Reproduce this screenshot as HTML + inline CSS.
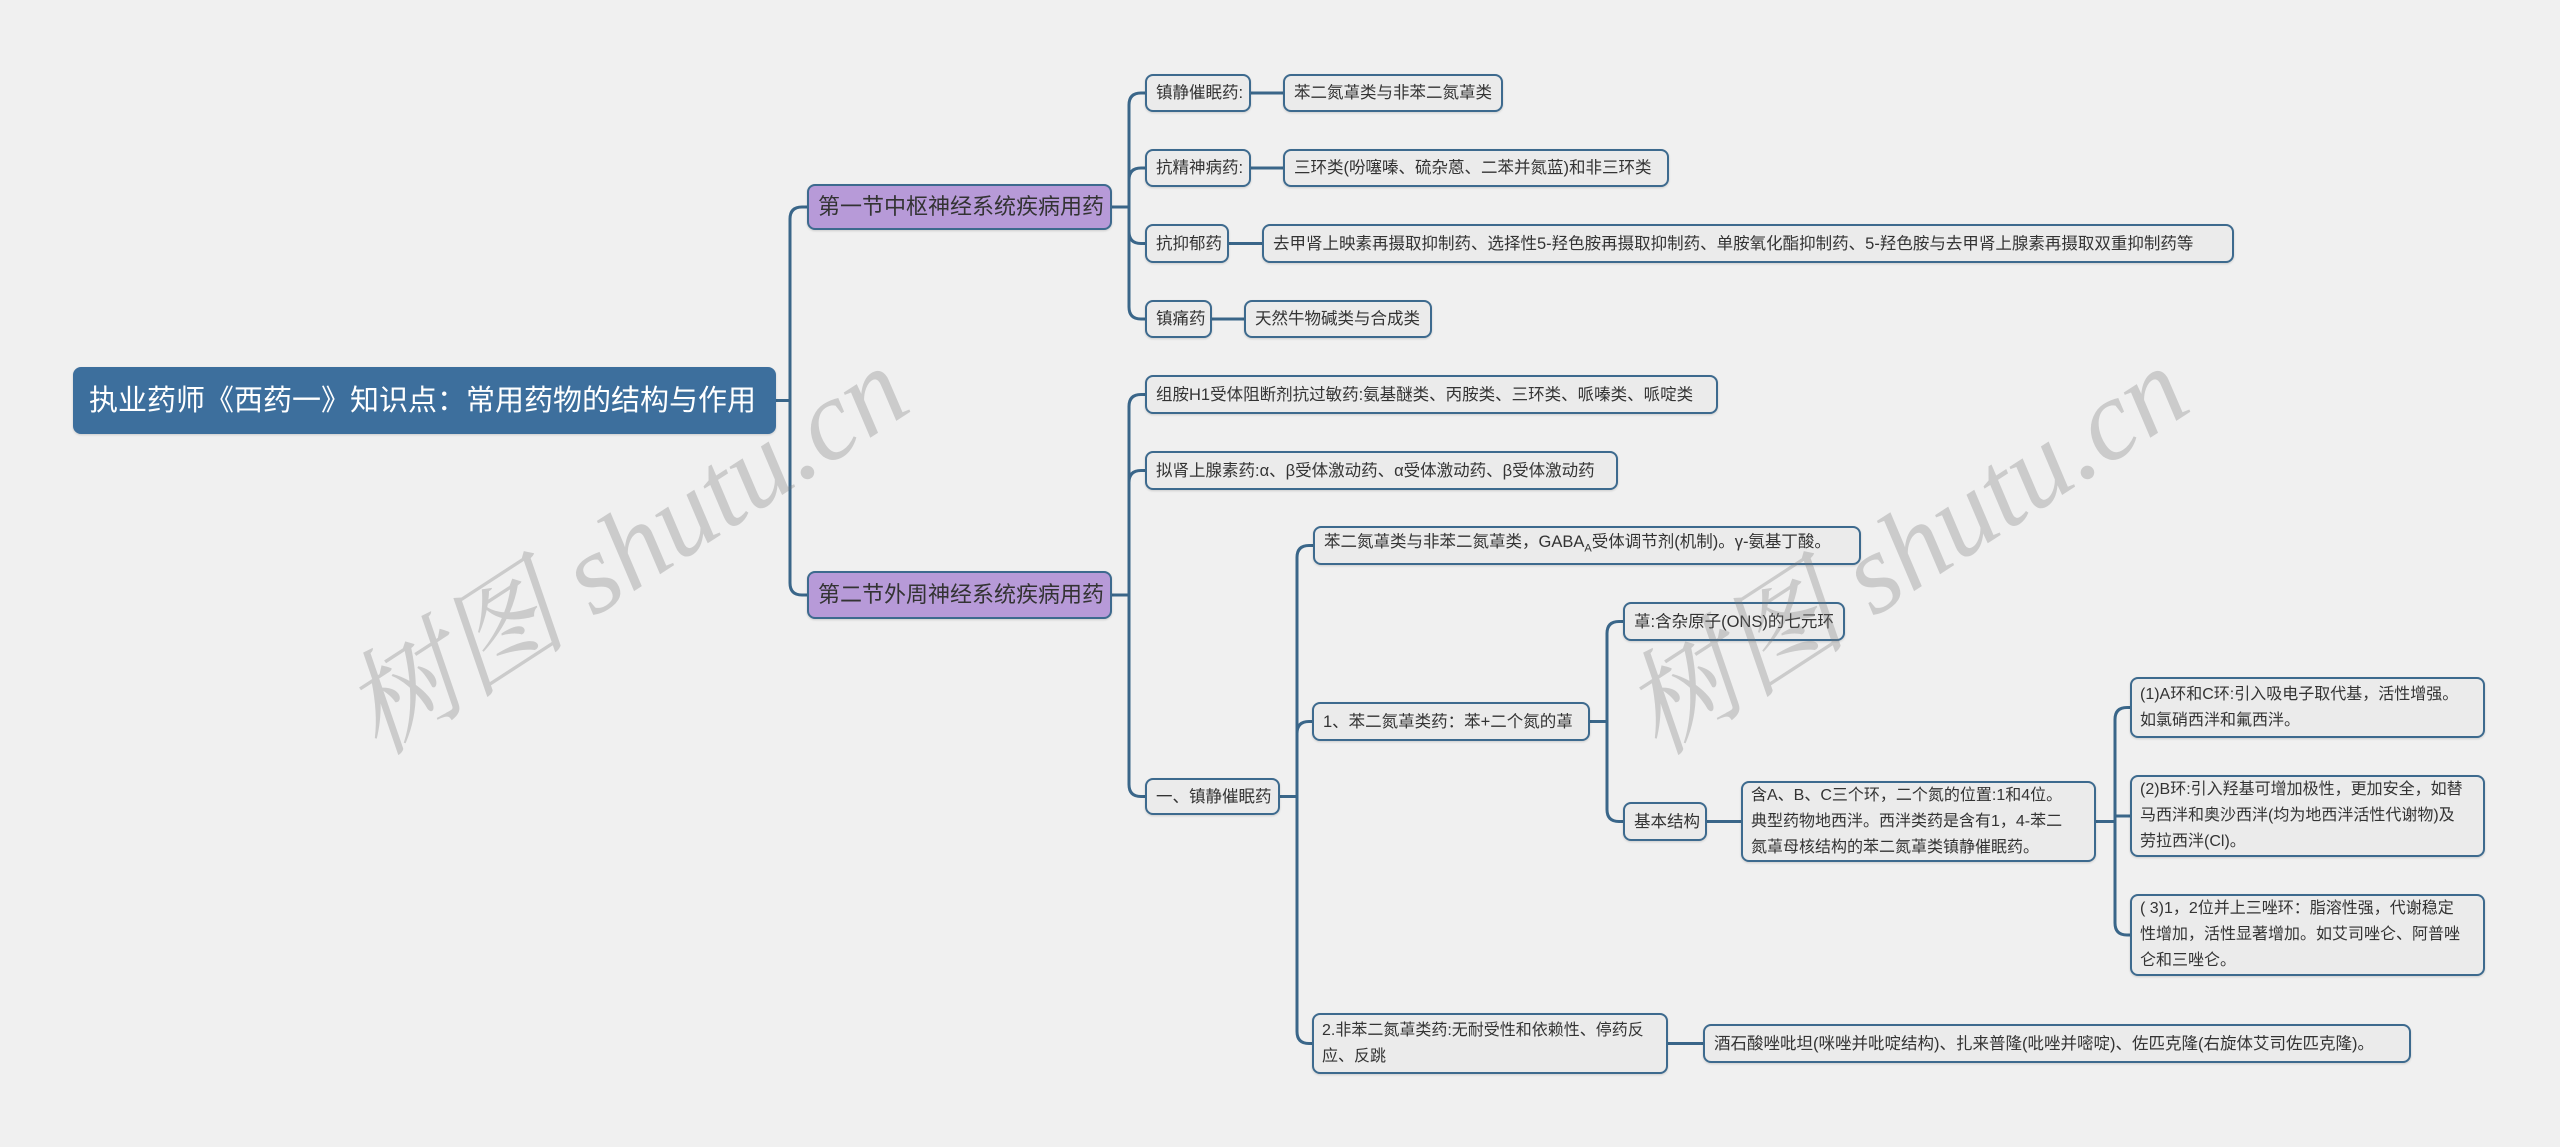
<!DOCTYPE html>
<html><head><meta charset="utf-8">
<style>
html,body{margin:0;padding:0;}
body{width:2560px;height:1147px;background:#f0f0f0;position:relative;overflow:hidden;font-family:"Liberation Sans","Noto Sans CJK SC",sans-serif;}
.n{position:absolute;box-sizing:border-box;background:#ebebeb;border:2px solid #3d6a8e;border-radius:8px;color:#333;font-size:16.5px;line-height:26px;padding:0 9px;display:flex;align-items:center;white-space:nowrap;box-shadow:0 1px 2px rgba(0,0,0,.15);}
.m{white-space:normal;align-items:center;font-size:16px;padding:0 20px 0 8px;}
.p{background:#b79ad8;font-size:22px;color:#333;border-color:#3d6a8e;}
.r{background:#3d6f9d;color:#fff;font-size:29px;border-color:#3d6f9d;padding-left:14px;}
svg{position:absolute;left:0;top:0;}
.wm{position:absolute;font-family:"Liberation Serif","Noto Serif CJK SC",serif;font-style:italic;font-size:114px;color:rgba(120,120,120,0.3);transform:rotate(-33deg);white-space:nowrap;}
</style></head><body>
<svg id="s" width="2560" height="1147"></svg>
<div id="c"></div>
<div class="wm" style="left:300px;top:460px;">树图 shutu.cn</div>
<div class="wm" style="left:1580px;top:460px;">树图 shutu.cn</div>
<script>
var N={
root:[73,367,776,434,"执业药师《西药一》知识点：常用药物的结构与作用","r"],
A:[807,184,1112,230,"第一节中枢神经系统疾病用药","p"],
B:[807,571,1112,619,"第二节外周神经系统疾病用药","p"],
a1:[1145,74,1251,112,"镇静催眠药:",""],
a1c:[1283,74,1503,112,"苯二氮䓬类与非苯二氮䓬类",""],
a2:[1145,149,1251,187,"抗精神病药:",""],
a2c:[1283,149,1669,187,"三环类(吩噻嗪、硫杂蒽、二苯并氮蓝)和非三环类",""],
a3:[1145,224,1229,263,"抗抑郁药",""],
a3c:[1262,224,2234,263,"去甲肾上映素再摄取抑制药、选择性5-羟色胺再摄取抑制药、单胺氧化酯抑制药、5-羟色胺与去甲肾上腺素再摄取双重抑制药等",""],
a4:[1145,300,1212,338,"镇痛药",""],
a4c:[1244,300,1432,338,"天然牛物碱类与合成类",""],
b1:[1145,375,1718,414,"组胺H1受体阻断剂抗过敏药:氨基醚类、丙胺类、三环类、哌嗪类、哌啶类",""],
b2:[1145,451,1618,490,"拟肾上腺素药:α、β受体激动药、α受体激动药、β受体激动药",""],
b3:[1145,778,1280,815,"一、镇静催眠药",""],
c1:[1313,526,1861,565,"苯二氮䓬类与非苯二氮䓬类，GABA<sub style='font-size:11px'>A</sub>受体调节剂(机制)。γ-氨基丁酸。",""],
c2:[1312,702,1590,741,"1、苯二氮䓬类药：苯+二个氮的䓬",""],
c3:[1312,1013,1668,1074,"2.非苯二氮䓬类药:无耐受性和依赖性、停药反应、反跳","m"],
d1:[1623,602,1845,641,"䓬:含杂原子(ONS)的七元环",""],
d2:[1623,802,1707,841,"基本结构",""],
e1:[1741,781,2096,862,"含A、B、C三个环，二个氮的位置:1和4位。典型药物地西泮。西泮类药是含有1，4-苯二氮䓬母核结构的苯二氮䓬类镇静催眠药。","m"],
f1:[2130,677,2485,738,"(1)A环和C环:引入吸电子取代基，活性增强。如氯硝西泮和氟西泮。","m"],
f2:[2130,775,2485,857,"(2)B环:引入羟基可增加极性，更加安全，如替马西泮和奥沙西泮(均为地西泮活性代谢物)及劳拉西泮(Cl)。","m"],
f3:[2130,894,2485,976,"( 3)1，2位并上三唑环：脂溶性强，代谢稳定性增加，活性显著增加。如艾司唑仑、阿普唑仑和三唑仑。","m"],
g1:[1703,1024,2411,1063,"酒石酸唑吡坦(咪唑并吡啶结构)、扎来普隆(吡唑并嘧啶)、佐匹克隆(右旋体艾司佐匹克隆)。",""]
};
var E=[["root",790,["A","B"]],["A",1129,["a1","a2","a3","a4"]],["B",1129,["b1","b2","b3"]],
["a1",0,["a1c"]],["a2",0,["a2c"]],["a3",0,["a3c"]],["a4",0,["a4c"]],
["b3",1297,["c1","c2","c3"]],["c2",1607,["d1","d2"]],["d2",0,["e1"]],["e1",2115,["f1","f2","f3"]],["c3",0,["g1"]]];
var h="";
for(var k in N){var d=N[k];h+='<div class="n '+d[5]+'" style="left:'+d[0]+'px;top:'+d[1]+'px;width:'+(d[2]-d[0])+'px;height:'+(d[3]-d[1])+'px"><span>'+d[4]+'</span></div>';}
document.getElementById("c").innerHTML=h;
var p="";
E.forEach(function(e){var P=N[e[0]],px=P[2],py=(P[1]+P[3])/2,tx=e[1];
e[2].forEach(function(c){var C=N[c],cx=C[0],cy=(C[1]+C[3])/2;
if(!tx){p+='M'+px+','+py+' H'+cx+' ';return;}
var r=12,dy=cy-py;
if(Math.abs(dy)<r){p+='M'+px+','+py+' H'+tx+' V'+cy+' H'+cx+' ';}
else{var s=dy>0?1:-1;p+='M'+px+','+py+' H'+tx+' V'+(cy-s*r)+' Q'+tx+','+cy+' '+(tx+r)+','+cy+' H'+cx+' ';}
});});
document.getElementById("s").innerHTML='<path d="'+p+'" fill="none" stroke="#3a6689" stroke-width="3"/>';
</script>
</body></html>
